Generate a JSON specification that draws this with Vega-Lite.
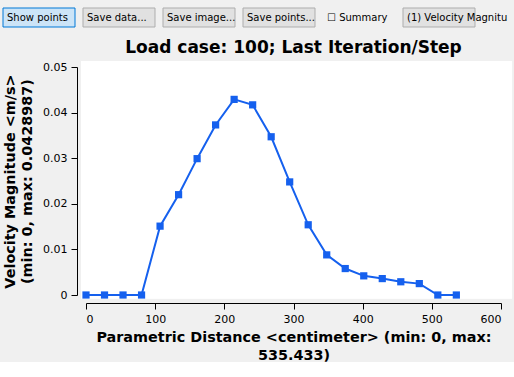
{
  "$schema": "https://vega.github.io/schema/vega-lite/v6.json",
  "background": "#f0f0f0",
  "padding": {"left": 2, "top": 7, "right": 0, "bottom": 0},
  "columns": 1,
  "spacing": 11,
  "config": {
    "font": "DejaVu Sans",
    "view": {"stroke": null},
    "axis": {
      "labelFont": "DejaVu Sans", "labelFontSize": 11, "labelColor": "#000",
      "titleFont": "DejaVu Sans", "titleFontSize": 14.4, "titleFontWeight": "bold", "titleColor": "#000",
      "domainColor": "#000", "tickColor": "#000",
      "gridColor": "#a0a0a0", "gridDash": [1, 2], "gridOpacity": 1, "zindex": 1
    }
  },
  "concat": [
    {
      "width": 429,
      "height": 19,
      "data": {"values": [
        {"label": "Show points", "state": "pressed"},
        {"label": "Save data...", "state": "button"},
        {"label": "Save image...", "state": "button"},
        {"label": "Save points...", "state": "button"},
        {"label": "☐ Summary", "state": "checkbox"},
        {"label": "(1) Velocity Magnitude", "state": "button"}
      ]},
      "layer": [
        {
          "mark": {"type": "rect", "strokeWidth": 1},
          "encoding": {
            "x": {"field": "label", "type": "nominal", "sort": null, "axis": null, "scale": {"range": [-83, 429], "paddingInner": 0.1, "paddingOuter": 0.25, "align": 0}},
            "fill": {"field": "state", "type": "nominal", "legend": null, "scale": {"domain": ["pressed", "button", "checkbox"], "range": ["#cce4f7", "#e1e1e1", "#f0f0f0"]}},
            "stroke": {"field": "state", "type": "nominal", "legend": null, "scale": {"domain": ["pressed", "button", "checkbox"], "range": ["#0078d7", "#adadad", "#f0f0f0"]}}
          }
        },
        {
          "mark": {"type": "text", "fontSize": 10, "color": "#000", "align": "left", "dx": 4, "limit": 106, "ellipsis": "\u200b"},
          "encoding": {
            "x": {"field": "label", "type": "nominal", "sort": null, "axis": null, "bandPosition": 0},
            "text": {"field": "label"}
          }
        }
      ]
    },
    {
      "width": 415,
      "height": 228,
      "title": {"text": "Load case: 100; Last Iteration/Step", "fontSize": 17, "fontWeight": "bold", "font": "DejaVu Sans", "color": "#000", "anchor": "middle", "offset": 4},
      "data": {"values": [
        {"distance": 0, "velocity": 0},
        {"distance": 26.772, "velocity": 0},
        {"distance": 53.543, "velocity": 0},
        {"distance": 80.315, "velocity": 0},
        {"distance": 107.087, "velocity": 0.0151},
        {"distance": 133.858, "velocity": 0.0220},
        {"distance": 160.63, "velocity": 0.0299},
        {"distance": 187.402, "velocity": 0.0373},
        {"distance": 214.173, "velocity": 0.0428987},
        {"distance": 240.945, "velocity": 0.0417},
        {"distance": 267.717, "velocity": 0.0347},
        {"distance": 294.488, "velocity": 0.0248},
        {"distance": 321.26, "velocity": 0.0154},
        {"distance": 348.032, "velocity": 0.0088},
        {"distance": 374.803, "velocity": 0.0058},
        {"distance": 401.575, "velocity": 0.0042},
        {"distance": 428.347, "velocity": 0.0036},
        {"distance": 455.118, "velocity": 0.0029},
        {"distance": 481.89, "velocity": 0.0025},
        {"distance": 508.662, "velocity": 0},
        {"distance": 535.433, "velocity": 0}
      ]},
      "layer": [
        {
          "mark": {"type": "rect", "color": "white", "clip": false},
          "encoding": {
            "x": {"datum": -7.2, "type": "quantitative"},
            "x2": {"datum": 616},
            "y": {"datum": -0.0007, "type": "quantitative"},
            "y2": {"datum": 0.0513}
          }
        },
        {
          "mark": {"type": "line", "color": "#1560ee", "strokeWidth": 2, "point": {"shape": "square", "size": 52, "filled": true, "color": "#1560ee", "opacity": 1}},
          "encoding": {
            "x": {
              "field": "distance", "type": "quantitative",
              "scale": {"domain": [0, 600], "nice": false, "zero": false},
              "axis": {"values": [0, 100, 200, 300, 400, 500, 600], "offset": 8, "tickSize": 6, "labelPadding": 4, "grid": true,
                       "title": ["Parametric Distance <centimeter> (min: 0, max:", "535.433)"], "titlePadding": 6, "titleLineHeight": 18}
            },
            "y": {
              "field": "velocity", "type": "quantitative",
              "scale": {"domain": [0, 0.05], "nice": false},
              "axis": {"values": [0, 0.01, 0.02, 0.03, 0.04, 0.05], "format": "~g", "offset": 9, "tickSize": 6, "labelPadding": 4, "grid": true,
                       "title": ["Velocity Magnitude <m/s>", "(min: 0, max: 0.0428987)"], "titlePadding": 8, "titleLineHeight": 17}
            }
          }
        }
      ]
    }
  ]
}
